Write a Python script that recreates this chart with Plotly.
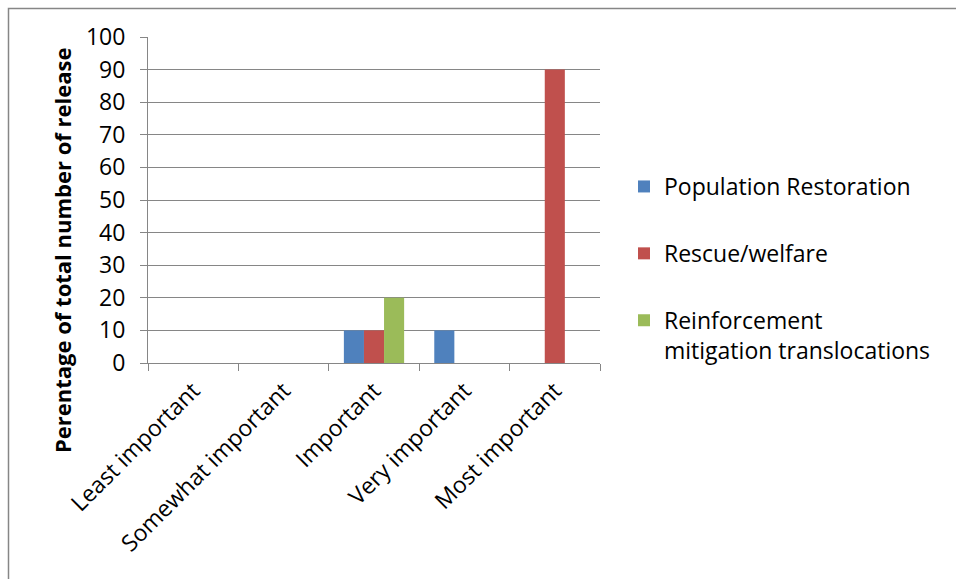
import plotly.graph_objects as go

categories = ["Least important", "Somewhat important", "Important", "Very important", "Most important"]
population_restoration = [0, 0, 10, 10, 0]
rescue_welfare = [0, 0, 10, 0, 90]
reinforcement = [0, 0, 20, 0, 0]
series_names = ["Population Restoration", "Rescue/welfare", "Reinforcement<br>mitigation translocations"]
colors = ["#4F81BD", "#C0504D", "#9BBB59"]

W, H = 956, 579
L, R, T, B = 148, 356, 37, 216
pw, ph = W - L - R, H - T - B

def px_x(p):
    return (p - L) / pw

def px_y(p):
    return (H - B - p) / ph

fig = go.Figure()
for i, (name, vals) in enumerate(zip(series_names, [population_restoration, rescue_welfare, reinforcement])):
    fig.add_trace(go.Bar(x=categories, y=vals, name=name, marker_color=colors[i],
                         marker_line_width=0, legendgroup=f"g{i}"))

font_family = "Open Sans, sans-serif"
axis_color = "#868686"

fig.update_layout(
    width=W, height=H,
    margin=dict(l=L, r=R, t=T, b=B),
    paper_bgcolor="white", plot_bgcolor="white",
    barmode="group", bargap=1/3, bargroupgap=0,
    font=dict(family=font_family, size=22, color="black"),
    showlegend=True,
    legend=dict(x=px_x(624), xanchor="left", y=px_y(165), yanchor="top",
                tracegroupgap=34, valign="top", font=dict(size=23),
                bgcolor="rgba(0,0,0,0)"),
    xaxis=dict(type="category", tickangle=-45, showline=True, linecolor=axis_color, linewidth=1,
               ticks="outside", tickson="boundaries", ticklen=7, tickcolor=axis_color,
               showgrid=False, tickfont=dict(size=23), ticklabelstandoff=4),
    yaxis=dict(range=[0, 100], dtick=10, showline=True, linecolor=axis_color, linewidth=1,
               ticks="outside", ticklen=7, tickcolor=axis_color, showgrid=True,
               gridcolor=axis_color, gridwidth=1, zeroline=False, tickfont=dict(size=23),
               ticklabelstandoff=10),
    annotations=[dict(text="<b>Perentage of total number of release</b>", textangle=-90,
                      x=px_x(62), y=px_y(251), xref="paper", yref="paper",
                      xanchor="center", yanchor="middle", showarrow=False,
                      font=dict(size=22, family=font_family))],
    shapes=[dict(type="rect", xref="paper", yref="paper",
                 x0=px_x(8.5), x1=px_x(1200), y0=px_y(8.5), y1=px_y(800),
                 line=dict(color=axis_color, width=1.5), fillcolor="rgba(0,0,0,0)", layer="below")],
)

fig.write_html("out.html")
